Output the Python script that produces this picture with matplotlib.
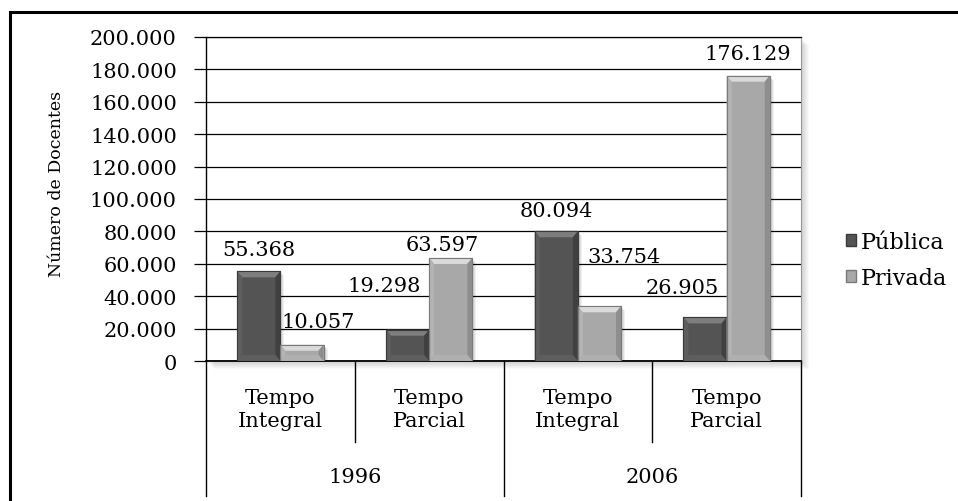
import matplotlib
matplotlib.use("Agg")
import matplotlib.pyplot as plt
from matplotlib.patches import Rectangle, Polygon, Patch
from matplotlib.lines import Line2D
from matplotlib.transforms import blended_transform_factory
import numpy as np

# docentes por regime de trabalho e categoria administrativa
anos = ["1996", "2006"]
regimes = ["Tempo\nIntegral", "Tempo\nParcial", "Tempo\nIntegral", "Tempo\nParcial"]
series = ["Pública", "Privada"]
publica = [55368, 19298, 80094, 26905]
privada = [10057, 63597, 33754, 176129]
yticks = list(range(0, 200001, 20000))

# nudges (pixels) of each value label from the top of its bar
off_pub = [(0, 22), (-23, 44), (0, 21), (-23, 30)]
off_priv = [(16, 23), (-8, 13), (25, 50), (0, 22)]

plt.rcParams['font.family'] = 'DejaVu Serif'

W, H = 958, 502
fig = plt.figure(figsize=(W / 100, H / 100), dpi=100)
fig.patch.set_facecolor('white')

# plot area in pixels
px0, px1, py0, py1 = 206, 801, 38, 362
ax = fig.add_axes([px0 / W, 1 - py1 / H, (px1 - px0) / W, (py1 - py0) / H])
ax.set_xlim(-0.5, 3.5)
ax.set_ylim(0, 200000)

# data units per pixel, used for bevels and shadows
dxp = 4.0 / (px1 - px0)
dyp = 200000.0 / (py1 - py0)


def fmt(v):
    return "{:,}".format(v).replace(",", ".")


def bevel_bar(x0, w, h, body, top, left, right, bottom, edge):
    bx, by = 5 * dxp, 6 * dyp
    # soft shadow
    for k in range(1, 5):
        ax.add_patch(Rectangle((x0 + k * dxp, -k * dyp), w, h, facecolor='black',
                               alpha=0.06, lw=0, zorder=2))
    ax.add_patch(Rectangle((x0, 0), w, h, facecolor=body, edgecolor=edge, lw=0.8, zorder=3))
    ax.add_patch(Polygon([(x0, h), (x0 + w, h), (x0 + w - bx, h - by), (x0 + bx, h - by)],
                         closed=True, facecolor=top, lw=0, zorder=4))
    ax.add_patch(Polygon([(x0, 0), (x0, h), (x0 + bx, h - by), (x0 + bx, by)],
                         closed=True, facecolor=left, lw=0, zorder=4))
    ax.add_patch(Polygon([(x0 + w, 0), (x0 + w, h), (x0 + w - bx, h - by), (x0 + w - bx, by)],
                         closed=True, facecolor=right, lw=0, zorder=4))
    ax.add_patch(Polygon([(x0, 0), (x0 + w, 0), (x0 + w - bx, by), (x0 + bx, by)],
                         closed=True, facecolor=bottom, lw=0, zorder=4))
    ax.add_patch(Rectangle((x0, 0), w, h, facecolor='none', edgecolor=edge, lw=0.8, zorder=5))


x = np.arange(len(regimes))
bw = 0.29
for i in range(len(x)):
    bevel_bar(x[i] - bw, bw, publica[i], '#545454', '#7e7e7e', '#5e5e5e', '#404040', '#5e5e5e', '#3a3a3a')
    bevel_bar(x[i], bw, privada[i], '#a8a8a8', '#dadada', '#b4b4b4', '#8e8e8e', '#b0b0b0', '#7a7a7a')
    ax.annotate(fmt(publica[i]), (x[i] - bw / 2, publica[i]), xytext=off_pub[i],
                textcoords='offset pixels', ha='center', va='center', fontsize=15, zorder=6)
    ax.annotate(fmt(privada[i]), (x[i] + bw / 2, privada[i]), xytext=off_priv[i],
                textcoords='offset pixels', ha='center', va='center', fontsize=15, zorder=6)

# grid and axes
ax.set_yticks(yticks)
ax.set_yticklabels([fmt(t) for t in yticks])
ax.yaxis.grid(True, color='black', lw=0.9)
ax.set_axisbelow(True)
ax.set_xticks([])
ax.tick_params(axis='y', length=9, width=0.9, pad=12, labelsize=15, direction='out')
ax.spines['left'].set_linewidth(1.0)
ax.spines['bottom'].set_linewidth(1.3)
ax.spines['top'].set_linewidth(0.9)
ax.spines['right'].set_color('#9a9a9a')
ax.spines['right'].set_linewidth(0.8)

# category table under the axis
tr = blended_transform_factory(ax.transData, ax.transAxes)
for xv, ybot in [(-0.5, -0.417), (0.5, -0.25), (1.5, -0.417), (2.5, -0.25), (3.5, -0.417)]:
    ax.add_line(Line2D([xv, xv], [0, ybot], transform=tr, color='black', lw=1.0, clip_on=False))
for i, r in enumerate(regimes):
    ax.text(x[i], -0.148, r, transform=tr, ha='center', va='center', fontsize=15,
            linespacing=1.3)
for j, a in enumerate(anos):
    ax.text(2 * j + 0.5, -0.355, a, transform=tr, ha='center', va='center', fontsize=15)

# soft shadow behind the plot area
for k in range(1, 9):
    fig.add_artist(Rectangle((px0 / W + k / W, 1 - py1 / H - k / H), (px1 - px0) / W, (py1 - py0) / H,
                             transform=fig.transFigure, facecolor='black', alpha=0.025,
                             lw=0, zorder=-1))

fig.text(57 / W, 1 - 184 / H, "Número de Docentes", rotation=90, ha='center', va='center',
         fontsize=12.5)

handles = [Patch(facecolor='#545454', edgecolor='#3a3a3a'),
           Patch(facecolor='#a8a8a8', edgecolor='#7a7a7a')]
fig.legend(handles, series, loc='center left', bbox_to_anchor=(826 / W, 1 - 261 / H),
           frameon=False, fontsize=16, handlelength=0.45, handleheight=0.45,
           handletextpad=0.2, labelspacing=0.65)

# outer frame
fig.add_artist(Rectangle((10 / W, -0.1), 1.2, 1 - 13 / H + 0.1, transform=fig.transFigure,
                         fill=False, edgecolor='black', lw=2.2, zorder=10))

fig.savefig("out.png", dpi=100)
